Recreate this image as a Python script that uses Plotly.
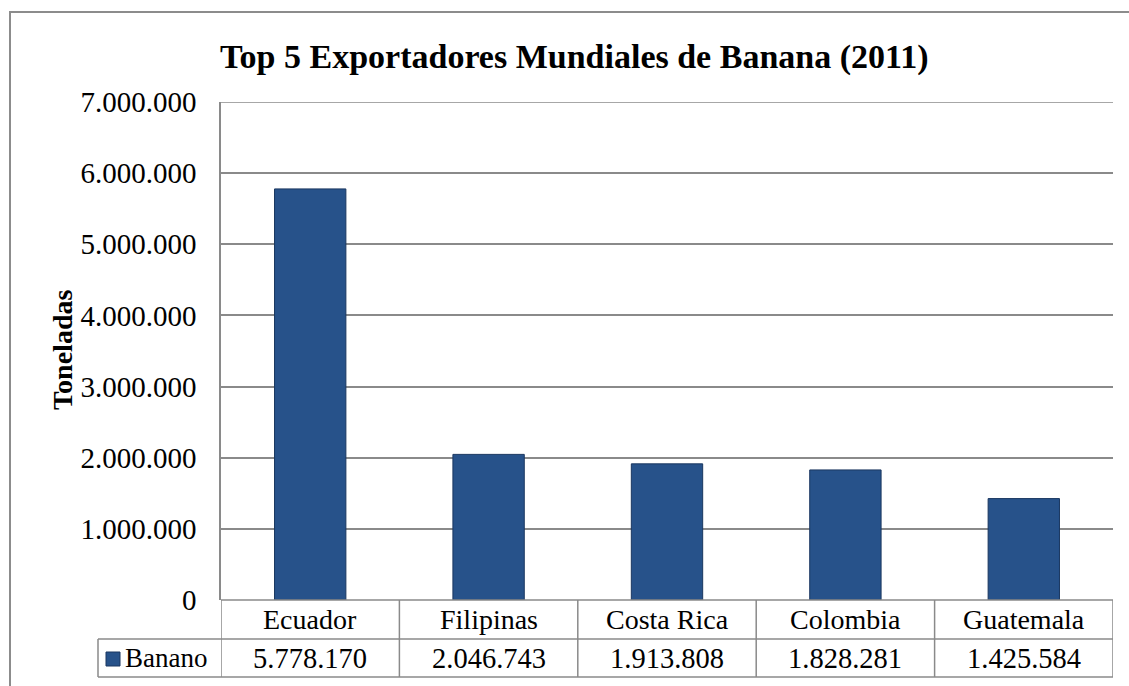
import plotly.graph_objects as go

categories = ["Ecuador", "Filipinas", "Costa Rica", "Colombia", "Guatemala"]
values = [5778170, 2046743, 1913808, 1828281, 1425584]
series_name = "Banano"
title_text = "Top 5 Exportadores Mundiales de Banana (2011)"
y_title = "Toneladas"
y_ticks = [0, 1000000, 2000000, 3000000, 4000000, 5000000, 6000000, 7000000]

FONT = "Liberation Serif"
GRID = "#8a8a8a"
BAR = "#27528a"

W, H = 1129, 686
L, R, T, B = 221, 16, 102, 86
plot_h = H - T - B

def py(px):
    return (H - B - px) / plot_h

def px_x(px):
    return (px - L) / (W - L - R)

row1 = py(639)
row2 = py(677)

def fmt(v):
    return f"{v:,}".replace(",", ".")

fig = go.Figure()
fig.add_trace(go.Bar(
    x=list(range(len(categories))), y=values, name=series_name,
    marker=dict(color=BAR, line=dict(color="#1a3760", width=1)),
    width=0.4,
))

shapes = []
# outer border
shapes.append(dict(type="rect", xref="paper", yref="paper",
                   x0=px_x(10), x1=px_x(1140), y0=py(700), y1=py(12),
                   line=dict(color="#8c8c8c", width=2), layer="below"))
# top gridline (range edge)
shapes.append(dict(type="line", xref="paper", yref="y", x0=0, x1=1,
                   y0=y_ticks[-1], y1=y_ticks[-1], line=dict(color=GRID, width=1.5),
                   layer="below"))
# table horizontal lines
shapes.append(dict(type="line", xref="paper", yref="paper", x0=0, x1=1, y0=0, y1=0,
                   line=dict(color=GRID, width=1.5)))
for yy in (row1, row2):
    shapes.append(dict(type="line", xref="paper", yref="paper", x0=px_x(98), x1=1,
                       y0=yy, y1=yy, line=dict(color=GRID, width=1.5)))
# table vertical lines
for i in range(len(categories) + 1):
    shapes.append(dict(type="line", xref="x", yref="paper", x0=i - 0.5, x1=i - 0.5,
                       y0=0, y1=row2, line=dict(color=GRID, width=1.5)))
shapes.append(dict(type="line", xref="paper", yref="paper", x0=px_x(98), x1=px_x(98),
                   y0=row1, y1=row2, line=dict(color=GRID, width=1.5)))
# legend key
shapes.append(dict(type="rect", xref="paper", yref="paper",
                   x0=px_x(106), x1=px_x(120), y0=py(666), y1=py(652),
                   fillcolor=BAR, line=dict(color="#1a3760", width=1)))

annotations = []
for i, (c, v) in enumerate(zip(categories, values)):
    annotations.append(dict(x=i, xref="x", y=(0 + row1) / 2, yref="paper", text=c,
                            showarrow=False, font=dict(family=FONT, size=28, color="#000"),
                            xanchor="center", yanchor="middle"))
    annotations.append(dict(x=i, xref="x", y=(row1 + row2) / 2, yref="paper", text=fmt(v),
                            showarrow=False, font=dict(family=FONT, size=28.5, color="#000"),
                            xanchor="center", yanchor="middle"))
annotations.append(dict(x=px_x(123), xref="paper", y=(row1 + row2) / 2, yref="paper",
                        text=series_name, showarrow=False, xanchor="left", yanchor="middle",
                        font=dict(family=FONT, size=27, color="#000")))
annotations.append(dict(x=px_x(62), xref="paper", y=py(350), yref="paper",
                        text="<b>" + y_title + "</b>", textangle=-90, showarrow=False,
                        xanchor="center", yanchor="middle",
                        font=dict(family=FONT, size=28, color="#000")))
annotations.append(dict(x=px_x(574), xref="paper", y=py(57), yref="paper",
                        text="<b>" + title_text + "</b>", showarrow=False,
                        xanchor="center", yanchor="middle",
                        font=dict(family=FONT, size=34, color="#000")))

fig.update_layout(
    width=W, height=H,
    margin=dict(l=L, r=R, t=T, b=B),
    paper_bgcolor="white", plot_bgcolor="white",
    separators=",.",
    showlegend=False,
    shapes=shapes, annotations=annotations,
    xaxis=dict(range=[-0.5, len(categories) - 0.5], showticklabels=False, showgrid=False,
               zeroline=False, showline=False, ticks=""),
    yaxis=dict(range=[0, 7000000], tickvals=y_ticks, tickformat=",.0f",
               showgrid=True, gridcolor=GRID, gridwidth=1.5, zeroline=False,
               showline=True, linecolor=GRID, linewidth=1.5, ticks="",
               ticklabelstandoff=17,
               tickfont=dict(family=FONT, size=29, color="#000")),
    bargap=0.6,
)

fig.write_html("out.html")
